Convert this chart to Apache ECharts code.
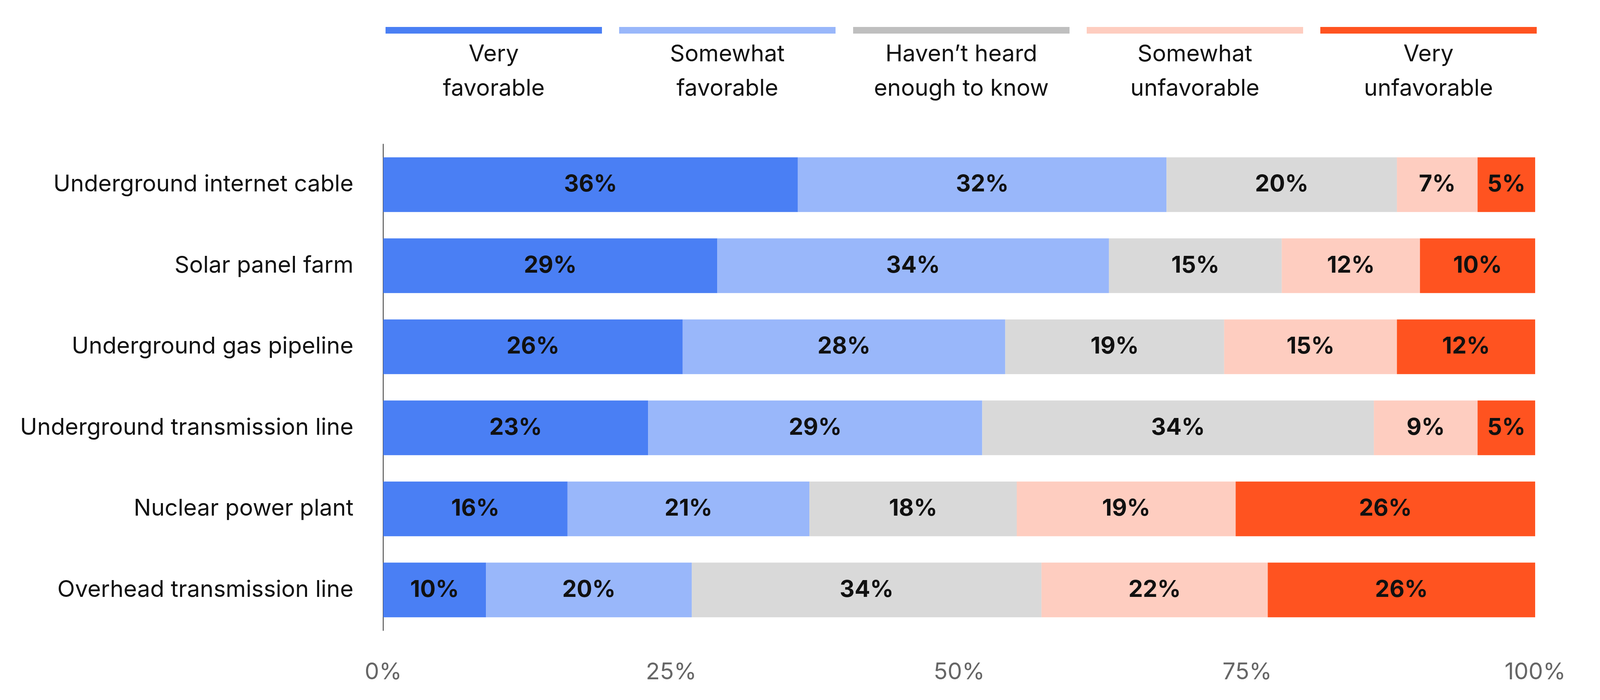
<!DOCTYPE html>
<html>
<head>
<meta charset="utf-8">
<script src="https://cdn.jsdelivr.net/npm/echarts@6/dist/echarts.min.js"></script>
<style>
  html, body { margin: 0; padding: 0; background: #fff; overflow: hidden; }
  #chart { width: 100vw; height: 100vh; }
</style>
</head>
<body>
<div id="chart"></div>
<script>
// categories, top to bottom
var categories = [
    'Underground internet cable',
    'Solar panel farm',
    'Underground gas pipeline',
    'Underground transmission line',
    'Nuclear power plant',
    'Overhead transmission line'
];
var seriesNames = [
    'Very favorable',
    'Somewhat favorable',
    "Haven\u2019t heard enough to know",
    'Somewhat unfavorable',
    'Very unfavorable'
];
var legendLines = [
    'Very\nfavorable',
    'Somewhat\nfavorable',
    'Haven\u2019t heard\nenough to know',
    'Somewhat\nunfavorable',
    'Very\nunfavorable'
];
var veryFav   = [36, 29, 26, 23, 16, 10];
var someFav   = [32, 34, 28, 29, 21, 20];
var notHeard  = [20, 15, 19, 34, 18, 34];
var someUnfav = [7, 12, 15, 9, 19, 22];
var veryUnfav = [5, 10, 12, 5, 26, 26];
var xTicks = [0, 25, 50, 75, 100];

var barColors    = ['#4a7ff4', '#99b7fa', '#d9d9d9', '#fecdc0', '#ff5320'];
var legendColors = ['#4a7ff4', '#99b7fa', '#bfbfbf', '#fecdc0', '#ff5320'];

var FONT = 'Inter';
var rows = [veryFav, someFav, notHeard, someUnfav, veryUnfav];
// bars are drawn as share of the row total, labels keep the raw values
var totals = categories.map(function (c, i) {
    return rows.reduce(function (s, r) { return s + r[i]; }, 0);
});

var chart = echarts.init(document.getElementById('chart'));
// layout measured on the 5033x1792 picture, scaled to the real canvas
var sx = chart.getWidth() / 5033, sy = chart.getHeight() / 1792;
var X = function (v) { return Math.round(v * sx); };
var Y = function (v) { return Math.round(v * sy); };
var F = function (v) { return Math.round(v * Math.min(sx, sy)); };

var LEG_LEFT = 1213, LEG_STEP = 735, LEG_W = 681;

var series = rows.map(function (r, k) {
    return {
        name: seriesNames[k],
        type: 'bar',
        stack: 'all',
        barWidth: Y(140),
        itemStyle: { color: barColors[k] },
        emphasis: { disabled: true },
        label: {
            show: true,
            position: 'inside',
            color: '#111',
            fontFamily: FONT,
            fontWeight: 'bold',
            fontSize: F(72),
            formatter: function (p) { return r[p.dataIndex] + '%'; }
        },
        data: r.map(function (v, i) { return v / totals[i] * 100; })
    };
});

var legends = seriesNames.map(function (n, k) {
    return {
        data: [{ name: n, itemStyle: { color: legendColors[k] } }],
        left: X(LEG_LEFT + k * LEG_STEP),
        top: Y(69),
        padding: 0,
        icon: 'rect',
        itemWidth: X(LEG_W),
        itemHeight: Y(17),
        selectedMode: false,
        formatter: function () { return ''; }
    };
});

var legendText = legendLines.map(function (t, k) {
    return {
        type: 'text',
        x: X(LEG_LEFT + k * LEG_STEP + LEG_W / 2),
        y: Y(95),
        style: {
            text: t,
            align: 'center',
            verticalAlign: 'top',
            fill: '#111',
            font: F(72) + 'px ' + FONT,
            lineHeight: Y(88)
        }
    };
});

chart.setOption({
    animation: false,
    backgroundColor: '#fff',
    legend: legends,
    graphic: legendText,
    grid: { left: X(1206), right: X(204), top: Y(369), bottom: Y(178) },
    xAxis: {
        type: 'value',
        min: xTicks[0],
        max: xTicks[xTicks.length - 1],
        interval: 25,
        axisLine: { show: false },
        axisTick: { show: false },
        splitLine: { show: false },
        axisLabel: {
            margin: Y(107) - F(72) / 2,
            color: '#666',
            fontFamily: FONT,
            fontSize: F(72),
            formatter: '{value}%'
        }
    },
    yAxis: {
        type: 'category',
        inverse: true,
        data: categories,
        axisLine: { show: true, lineStyle: { color: '#333', width: 2 } },
        axisTick: { show: false },
        axisLabel: {
            margin: X(93),
            color: '#111',
            fontFamily: FONT,
            fontSize: F(72)
        }
    },
    series: series
});
</script>
</body>
</html>
